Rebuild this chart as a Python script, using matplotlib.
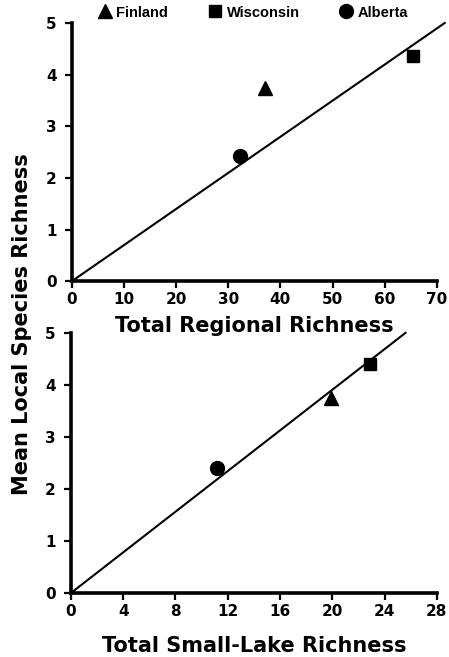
import matplotlib
matplotlib.use("Agg")
import matplotlib.pyplot as plt

plt.rcParams['font.family'] = ['DejaVu Sans']
plt.rcParams['font.weight'] = 'bold'

regions = ["Finland", "Wisconsin", "Alberta"]
markers = ["^", "s", "o"]
msizes = [10.5, 8.5, 10]
mean_local = [3.75, 4.37, 2.42]
regional_richness = [37.0, 65.5, 32.3]
mean_local_small = [3.75, 4.4, 2.4]
small_lake_richness = [19.9, 22.9, 11.2]

fit_top_x = [0, 71.5]
fit_top_y = [0, 5.0]
fit_bot_x = [0, 25.6]
fit_bot_y = [0, 5.0]

xticks_top = [0, 10, 20, 30, 40, 50, 60, 70]
xticks_bot = [0, 4, 8, 12, 16, 20, 24, 28]
yticks = [0, 1, 2, 3, 4, 5]

fig = plt.figure(figsize=(4.49, 6.57), dpi=100)
ax1 = fig.add_axes([0.160, 0.572, 0.813, 0.393])
ax2 = fig.add_axes([0.158, 0.0974, 0.815, 0.396])
ax2.patch.set_visible(False)
ax1.set_zorder(2)

def style(ax, xticks, xmax):
    ax.set_xlim(0, xmax)
    ax.set_ylim(0, 5)
    ax.set_xticks(xticks)
    ax.set_yticks(yticks)
    for s in ['top', 'right']:
        ax.spines[s].set_visible(False)
    for s in ['left', 'bottom']:
        ax.spines[s].set_linewidth(2.6)
        ax.spines[s].set_color('black')
    ax.tick_params(direction='out', length=5, width=1.6, labelsize=11)
    ax.tick_params(axis='y', pad=6)
    ax.tick_params(axis='x', pad=3)
    for lab in ax.get_xticklabels() + ax.get_yticklabels():
        lab.set_fontweight('bold')

for r, m, ms, x, y in zip(regions, markers, msizes, regional_richness, mean_local):
    ax1.plot([x], [y], marker=m, color='black', markersize=ms, linestyle='none', label=r, clip_on=False)
ax1.plot(fit_top_x, fit_top_y, color='black', lw=1.5, clip_on=False)
style(ax1, xticks_top, 70)
ax1.set_xlabel("Total Regional Richness", fontsize=15, fontweight='bold', labelpad=6)

for r, m, ms, x, y in zip(regions, markers, msizes, small_lake_richness, mean_local_small):
    ax2.plot([x], [y], marker=m, color='black', markersize=ms, linestyle='none', label=r, clip_on=False)
ax2.plot(fit_bot_x, fit_bot_y, color='black', lw=1.5, clip_on=False)
style(ax2, xticks_bot, 28)
ax2.set_xlabel("Total Small-Lake Richness", fontsize=15, fontweight='bold', labelpad=12)

leg = ax1.legend(ncol=3, loc='lower left', bbox_to_anchor=(0.05, 0.985), frameon=False,
                 handletextpad=0.3, columnspacing=2.7, handlelength=1.0, borderpad=0,
                 prop={'family': 'Liberation Sans', 'size': 10.5, 'weight': 'bold'})

fig.text(0.048, 0.507, "Mean Local Species Richness", rotation=90, fontsize=15,
         fontweight='bold', ha='center', va='center')

fig.savefig("out.png", dpi=100)
